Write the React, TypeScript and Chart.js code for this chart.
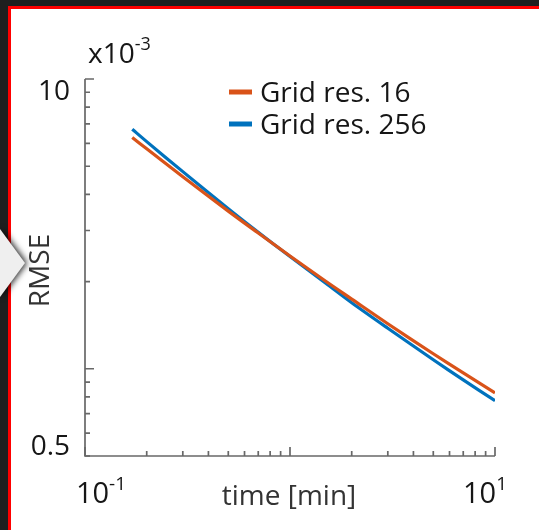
import React, { useEffect, useRef } from "react";
import { Chart, registerables } from "chart.js";

Chart.register(...registerables);

// ---- data (RMSE in units of 1e-3) ----
const timeMin = [0.17, 0.2, 0.3, 0.5, 0.7, 1, 1.5, 2, 3, 5, 7, 10];
const rmseRes16 = [6.28, 5.74, 4.6, 3.5, 2.94, 2.45, 2.0, 1.74, 1.43, 1.127, 0.968, 0.826];
const rmseRes256 = [6.71, 6.08, 4.79, 3.57, 2.96, 2.44, 1.97, 1.69, 1.38, 1.074, 0.915, 0.776];
const seriesLabels = ["Grid res. 16", "Grid res. 256"];
const seriesColors = ["#D95319", "#0072BD"];

const xRange = [0.1, 10];
const yRange = [0.5, 10];
const xTickLabels = [
  { value: 0.1, base: "10", exp: "-1" },
  { value: 10, base: "10", exp: "1" },
];
const yTickLabels = [
  { value: 10, text: "10" },
  { value: 0.5, text: "0.5" },
];
const xTickMarks = [0.1, 0.2, 0.3, 0.4, 0.5, 0.6, 0.7, 0.8, 0.9, 1, 2, 3, 4, 5, 6, 7, 8, 9, 10];
const yTickMarks = [0.5, 0.6, 0.7, 0.8, 0.9, 1, 2, 3, 4, 5, 6, 7, 8, 9, 10];
const majorTicks = [0.1, 1, 10];
const xTitle = "time [min]";
const yTitle = "RMSE";
const yExponent = { base: "x10", exp: "-3" };

const FONT = '"Open Sans", sans-serif';

function drawSup(ctx: CanvasRenderingContext2D, x: number, y: number, base: string, exp: string, size: number, align: "center" | "left") {
  ctx.font = `${size}px ${FONT}`;
  const wb = ctx.measureText(base).width;
  ctx.font = `${Math.round(size * 0.66)}px ${FONT}`;
  const we = ctx.measureText(exp).width;
  const start = align === "center" ? x - (wb + we) / 2 : x;
  ctx.textAlign = "left";
  ctx.textBaseline = "middle";
  ctx.font = `${size}px ${FONT}`;
  ctx.fillText(base, start, y);
  ctx.font = `${Math.round(size * 0.66)}px ${FONT}`;
  ctx.fillText(exp, start + wb, y - size * 0.36);
}

const overlayPlugin = {
  id: "overlay",
  afterDraw(chart: any) {
    const ctx: CanvasRenderingContext2D = chart.ctx;
    const xs = chart.scales.x;
    const ys = chart.scales.y;
    const { left, right, top, bottom } = chart.chartArea;
    ctx.save();
    // axes
    ctx.strokeStyle = "#686868";
    ctx.lineWidth = 1.7;
    ctx.beginPath();
    ctx.moveTo(left, top);
    ctx.lineTo(left, bottom);
    ctx.lineTo(right, bottom);
    ctx.stroke();
    ctx.beginPath();
    yTickMarks.forEach((v) => {
      const py = ys.getPixelForValue(v);
      const len = majorTicks.includes(v) ? 9 : 5;
      ctx.moveTo(left, py);
      ctx.lineTo(left + len, py);
    });
    xTickMarks.forEach((v) => {
      const px = xs.getPixelForValue(v);
      const len = majorTicks.includes(v) ? 9 : 5;
      ctx.moveTo(px, bottom);
      ctx.lineTo(px, bottom - len);
    });
    ctx.stroke();

    // tick labels
    ctx.fillStyle = "#161616";
    const yOff: Record<string, number> = { "10": 13, "0.5": -9 };
    yTickLabels.forEach((t) => {
      ctx.font = `28px ${FONT}`;
      ctx.textAlign = "right";
      ctx.textBaseline = "middle";
      ctx.fillText(t.text, left - 15, ys.getPixelForValue(t.value) + (yOff[t.text] || 0));
    });
    const xOff: Record<string, number> = { "-1": 16, "1": -10 };
    xTickLabels.forEach((t) => {
      drawSup(ctx, xs.getPixelForValue(t.value) + (xOff[t.exp] || 0), bottom + 39, t.base, t.exp, 29, "center");
    });
    drawSup(ctx, left + 3, top - 24, yExponent.base, yExponent.exp, 28, "left");

    // axis titles
    ctx.fillStyle = "#333333";
    ctx.font = `28px ${FONT}`;
    ctx.textAlign = "center";
    ctx.textBaseline = "middle";
    ctx.fillText(xTitle, (left + right) / 2 - 1, bottom + 41);
    ctx.save();
    ctx.translate(left - 44, (top + bottom) / 2 + 3);
    ctx.rotate(-Math.PI / 2);
    ctx.fillText(yTitle, 0, 0);
    ctx.restore();

    // legend
    const lx = left + 144;
    const ly = top + 13;
    seriesLabels.forEach((lab, i) => {
      const y = ly + i * 32;
      ctx.strokeStyle = seriesColors[i];
      ctx.lineWidth = 5;
      ctx.beginPath();
      ctx.moveTo(lx, y);
      ctx.lineTo(lx + 23, y);
      ctx.stroke();
      ctx.fillStyle = "#161616";
      ctx.font = `28px ${FONT}`;
      ctx.textAlign = "left";
      ctx.textBaseline = "middle";
      ctx.fillText(lab, lx + 31, y + 2);
    });
    ctx.restore();
  },
};

export default function App() {
  const ref = useRef<HTMLCanvasElement | null>(null);
  useEffect(() => {
    if (!ref.current) return;
    const makeData = (ys: number[]) => timeMin.map((x, i) => ({ x, y: ys[i] }));
    const chart = new Chart(ref.current, {
      type: "line",
      data: {
        datasets: [rmseRes16, rmseRes256].map((ys, i) => ({
          label: seriesLabels[i],
          data: makeData(ys),
          borderColor: seriesColors[i],
          borderWidth: 3.2,
          pointRadius: 0,
          tension: 0.3,
          fill: false,
        })),
      },
      options: {
        animation: false,
        responsive: false,
        devicePixelRatio: 1,
        layout: { padding: { left: 85, top: 79, right: 44, bottom: 74 } },
        plugins: { legend: { display: false }, tooltip: { enabled: false } },
        scales: {
          x: { type: "logarithmic", min: xRange[0], max: xRange[1], display: false },
          y: { type: "logarithmic", min: yRange[0], max: yRange[1], display: false },
        },
      },
      plugins: [overlayPlugin],
    });
    return () => chart.destroy();
  }, []);

  return (
    <div style={{ position: "fixed", left: 0, top: 0, width: 539, height: 530, background: "#1f1f1f", overflow: "hidden" }}>
      <div
        style={{
          position: "absolute",
          left: 8,
          top: 6,
          width: 531,
          height: 524,
          boxSizing: "border-box",
          borderTop: "3px solid #ff0000",
          borderLeft: "3px solid #ff0000",
          background: "#ffffff",
        }}
      />
      <div style={{ position: "absolute", left: 0, top: 226, width: 32, height: 74, filter: "drop-shadow(2px 0px 3px rgba(0,0,0,0.85))" }}>
        <div style={{ width: 25, height: 68, marginTop: 3, background: "#efefef", clipPath: "polygon(0 0, 100% 50%, 0 100%)" }} />
      </div>
      <canvas ref={ref} width={539} height={530} style={{ position: "absolute", left: 0, top: 0, width: 539, height: 530 }} />
    </div>
  );
}
